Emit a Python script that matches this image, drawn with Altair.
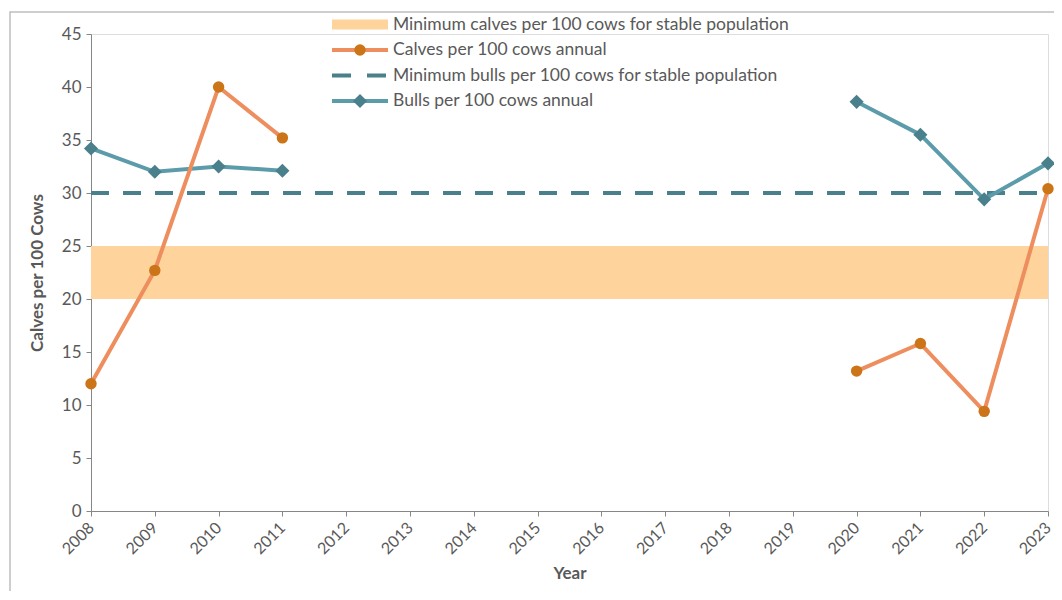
import altair as alt
import pandas as pd

years = list(range(2008, 2024))
obs_years = [2008, 2009, 2010, 2011, 2020, 2021, 2022, 2023]
segment = ["early", "early", "early", "early", "late", "late", "late", "late"]
calves = [12.0, 22.7, 40.0, 35.2, 13.2, 15.8, 9.4, 30.4]
bulls = [34.2, 32.0, 32.5, 32.1, 38.6, 35.5, 29.4, 32.8]
calf_band = [20, 25]
bull_min = 30

legend_labels = [
    "Minimum calves per 100 cows for stable population",
    "Calves per 100 cows annual",
    "Minimum bulls per 100 cows for stable population",
    "Bulls per 100 cows annual",
]

BAND = "#FED49C"
CALF_LINE = "#EE8E5E"
CALF_PT = "#CC7418"
BULL_LINE = "#5C9BAA"
BULL_PT = "#4A808C"
DASH = "#4A7F8C"
TXT = "#595959"
FONT = "Lato"

df = pd.DataFrame({"Year": obs_years, "seg": segment, "calves": calves, "bulls": bulls})
ref = pd.DataFrame({"x1": [years[0]], "x2": [years[-1]], "lo": [calf_band[0]],
                    "hi": [calf_band[1]], "bull": [bull_min]})

xscale = alt.Scale(domain=[years[0], years[-1]], nice=False, zero=False)
yscale = alt.Scale(domain=[0, 45], nice=False)

xaxis = alt.Axis(values=years, format="d", labelAngle=-45, labelAlign="right",
                 labelBaseline="middle", title="Year",
                 grid=False, tickSize=5, labelFontSize=16, titleFontSize=17,
                 labelColor=TXT, titleColor=TXT, domainColor="#868686",
                 tickColor="#868686", labelPadding=9, titlePadding=9,
                 labelFont=FONT, titleFont=FONT, titleFontWeight="bold")
yaxis = alt.Axis(values=list(range(0, 50, 5)), title="Calves per 100 Cows",
                 grid=False, tickSize=5, labelFontSize=17, titleFontSize=17,
                 labelColor=TXT, titleColor=TXT, domainColor="#868686",
                 tickColor="#868686", labelPadding=5, titlePadding=15,
                 labelFont=FONT, titleFont=FONT, titleFontWeight="bold")

base_ref = alt.Chart(ref)
band = base_ref.mark_rect(color=BAND).encode(
    x=alt.X("x1:Q", scale=xscale, axis=xaxis), x2="x2:Q",
    y=alt.Y("lo:Q", scale=yscale, axis=yaxis), y2="hi:Q")
dash = base_ref.mark_rule(color=DASH, strokeWidth=4, strokeDash=[18, 14]).encode(
    x="x1:Q", x2="x2:Q", y="bull:Q")

base = alt.Chart(df)
bull_line = base.mark_line(color=BULL_LINE, strokeWidth=4).encode(
    x="Year:Q", y="bulls:Q", detail="seg:N")
bull_pts = base.mark_point(shape="diamond", filled=True, size=200, color=BULL_PT, opacity=1).encode(
    x="Year:Q", y="bulls:Q")
calf_line = base.mark_line(color=CALF_LINE, strokeWidth=4).encode(
    x="Year:Q", y="calves:Q", detail="seg:N")
calf_pts = base.mark_point(shape="circle", filled=True, size=130, color=CALF_PT, opacity=1).encode(
    x="Year:Q", y="calves:Q")

# manual legend (decoration)
lx1, lx2, lcx, ltx = 241, 297, 269, 302
ly = [-9.5, 16, 41.5, 67]
one = alt.Chart(pd.DataFrame({"k": [0]}))
leg = [
    one.mark_rect(color=BAND).encode(x=alt.value(lx1), x2=alt.value(lx2),
                                     y=alt.value(ly[0] - 5), y2=alt.value(ly[0] + 5)),
    one.mark_rule(color=CALF_LINE, strokeWidth=4).encode(x=alt.value(lx1), x2=alt.value(lx2), y=alt.value(ly[1])),
    one.mark_point(shape="circle", filled=True, size=130, color=CALF_PT, opacity=1).encode(
        x=alt.value(lcx), y=alt.value(ly[1])),
    one.mark_rule(color=DASH, strokeWidth=4, strokeDash=[19, 16]).encode(x=alt.value(lx1), x2=alt.value(lx2), y=alt.value(ly[2])),
    one.mark_rule(color=BULL_LINE, strokeWidth=4).encode(x=alt.value(lx1), x2=alt.value(lx2), y=alt.value(ly[3])),
    one.mark_point(shape="diamond", filled=True, size=200, color=BULL_PT, opacity=1).encode(
        x=alt.value(lcx), y=alt.value(ly[3])),
]
for lab, yy in zip(legend_labels, ly):
    leg.append(one.mark_text(align="left", baseline="middle", fontSize=17.5, font=FONT,
                             color=TXT).encode(x=alt.value(ltx), y=alt.value(yy), text=alt.value(lab)))

border = one.mark_rect(fill=None, stroke="#BFBFBF", strokeWidth=1.5).encode(
    x=alt.value(-81), x2=alt.value(1100), y=alt.value(-22), y2=alt.value(700))

chart = alt.layer(band, dash, bull_line, bull_pts, calf_line, calf_pts, border, *leg).properties(
    width=957, height=477,
    autosize=alt.AutoSizeParams(type="none"),
    padding={"left": 83, "top": 26, "right": 6, "bottom": 80},
).configure_view(stroke=None).configure(background="white")

chart.save("out.html", embed_options={"renderer": "svg", "actions": False})
